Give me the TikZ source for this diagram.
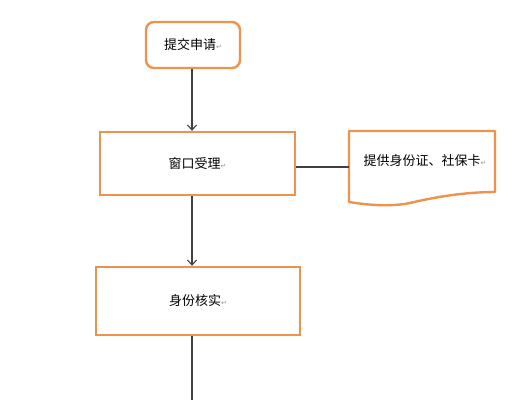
\documentclass[tikz,border=0pt]{standalone}
\usepackage{fontspec}
\newfontfamily\cjk{Noto Sans CJK SC}
\newfontfamily\dejavu{DejaVu Sans}
\definecolor{boxorange}{RGB}{238,146,78}
\definecolor{linegray}{RGB}{64,64,64}
\definecolor{markgray}{RGB}{150,150,150}
\newcommand{\pmark}{{\dejavu\fontsize{7}{7}\selectfont\color{markgray}↵}}
\usetikzlibrary{arrows.meta}
\tikzset{
  txt/.style={font=\cjk\fontsize{13}{15}\selectfont, text=black},
  procbox/.style={txt, draw=boxorange, line width=2.4pt, fill=white, inner sep=0pt},
  conn/.style={draw=linegray, line width=1.1pt},
  arr/.style={conn, -{Straight Barb[length=5pt,width=9pt]}},
}
\begin{document}
\begin{tikzpicture}[x=1pt,y=-1pt]
\useasboundingbox (0,0) rectangle (532,400);
\node[procbox, rounded corners=8pt, minimum width=94pt, minimum height=46pt] (b1) at (193,45) {提交申请\pmark};
\node[procbox, minimum width=195pt, minimum height=63pt] (b2) at (197.5,163.5) {窗口受理\pmark};
\node[procbox, minimum width=204pt, minimum height=68pt] (b3) at (198,301) {身份核实\pmark};
\coordinate (doc) at (349,167);
\draw[boxorange, line width=2.4pt, line join=round]
  (349,131) -- (495,131) -- (495,192)
  .. controls (465,192) and (435,197) .. (410,203)
  .. controls (390,207) and (368,205) .. (349,202)
  -- cycle;
\node[txt, inner sep=0pt] (doctext) at (425,161) {提供身份证、社保卡\pmark};
\coordinate (c1) at (192,45);
\coordinate (bottom) at (192,400);
\draw[arr] (c1 |- b1.south) -- (c1 |- b2.north);
\draw[arr] (c1 |- b2.south) -- (c1 |- b3.north);
\draw[conn] (c1 |- b3.south) -- (bottom);
\draw[conn] (b2.east |- doc) -- (doc);
\end{tikzpicture}
\end{document}
